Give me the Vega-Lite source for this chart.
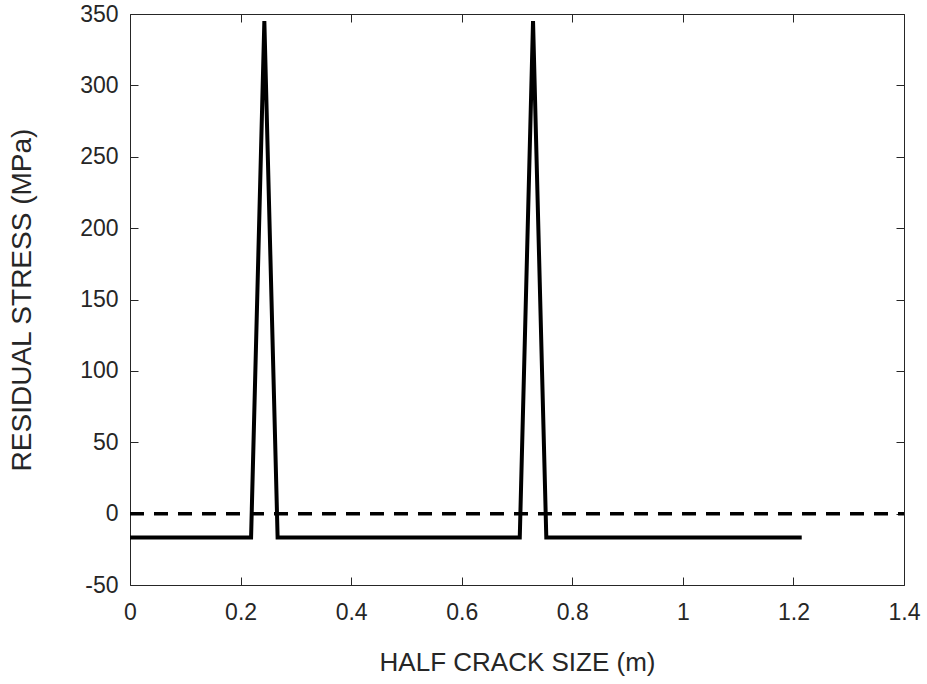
{
  "$schema": "https://vega.github.io/schema/vega-lite/v6.json",
  "autosize": "none",
  "width": 774,
  "height": 571,
  "padding": {"left": 130, "top": 14, "right": 23, "bottom": 99},
  "background": "white",
  "config": {
    "view": {"stroke": null},
    "axis": {
      "grid": false,
      "domainColor": "#262626",
      "tickColor": "#262626",
      "labelColor": "#262626",
      "titleColor": "#262626",
      "labelFont": "Liberation Sans",
      "titleFont": "Liberation Sans",
      "labelFontSize": 23,
      "titleFontSize": 26,
      "titleFontWeight": "normal",
      "tickSize": -8,
      "domainWidth": 1,
      "tickWidth": 1,
      "labelExpr": "datum.value + ''"
    }
  },
  "datasets": {
    "curve": [
      {"x": 0, "y": -16.7},
      {"x": 0.219, "y": -16.7},
      {"x": 0.243, "y": 345},
      {"x": 0.267, "y": -16.7},
      {"x": 0.705, "y": -16.7},
      {"x": 0.729, "y": 345},
      {"x": 0.753, "y": -16.7},
      {"x": 1.215, "y": -16.7}
    ],
    "zero": [
      {"x": 0, "y": 0},
      {"x": 1.4, "y": 0}
    ]
  },
  "resolve": {"axis": {"x": "independent", "y": "independent"}},
  "layer": [
    {
      "data": {"name": "zero"},
      "mark": {"type": "line", "color": "black", "strokeWidth": 3.5, "strokeDash": [14, 10]},
      "encoding": {
        "x": {"field": "x", "type": "quantitative", "scale": {"domain": [0, 1.4], "nice": false, "zero": false},
          "axis": {"title": "HALF CRACK SIZE (m)", "values": [0, 0.2, 0.4, 0.6, 0.8, 1, 1.2, 1.4], "labelPadding": 24, "titlePadding": 25, "labelFlush": false}},
        "y": {"field": "y", "type": "quantitative", "scale": {"domain": [-50, 350], "nice": false, "zero": false},
          "axis": {"title": "RESIDUAL STRESS (MPa)", "titleFontSize": 28, "values": [-50, 0, 50, 100, 150, 200, 250, 300, 350], "labelPadding": 20, "titlePadding": 43, "labelFlush": false}}
      }
    },
    {
      "data": {"name": "curve"},
      "mark": {"type": "line", "color": "black", "strokeWidth": 4, "strokeJoin": "miter"},
      "encoding": {
        "x": {"field": "x", "type": "quantitative", "scale": {"domain": [0, 1.4], "nice": false, "zero": false},
          "axis": {"orient": "top", "title": null, "labels": false, "values": [0, 0.2, 0.4, 0.6, 0.8, 1, 1.2, 1.4]}},
        "y": {"field": "y", "type": "quantitative", "scale": {"domain": [-50, 350], "nice": false, "zero": false},
          "axis": {"orient": "right", "title": null, "labels": false, "values": [-50, 0, 50, 100, 150, 200, 250, 300, 350]}}
      }
    }
  ]
}
